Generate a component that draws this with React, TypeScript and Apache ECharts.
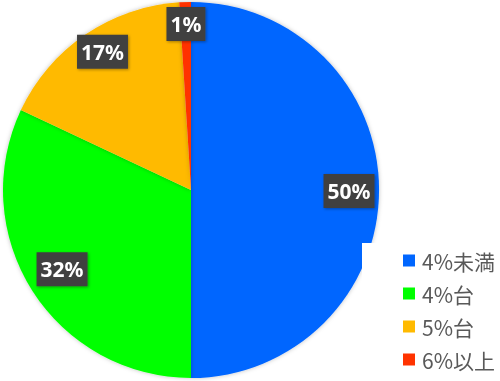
import React, { useEffect, useRef } from "react";
import * as echarts from "echarts";

const categories = ["4%未満", "4%台", "5%台", "6%以上"];
const values = [50, 32, 17, 1];
const colors = ["#0066ff", "#00ff00", "#ffba00", "#ff3300"];

export default function App() {
  const ref = useRef<HTMLDivElement>(null);
  useEffect(() => {
    if (!ref.current) return;
    const chart = echarts.init(ref.current, null, { renderer: "svg" });
    const labelNudge: number[][] = [[-3, 1], [7, -7], [2, -5], [0, -5]];
    const data = categories.map((name, i) => ({
      name,
      value: values[i],
      itemStyle: { color: colors[i] },
    }));
    chart.setOption({
      animation: false,
      legend: {
        orient: "vertical",
        left: 362,
        top: 243,
        z: 10,
        backgroundColor: "#ffffff",
        padding: [6, 8, 10, 41],
        itemWidth: 12,
        itemHeight: 12,
        itemGap: 10,
        icon: "rect",
        data: categories,
        textStyle: {
          fontFamily: "Noto Sans CJK JP",
          fontSize: 21,
          lineHeight: 23,
          color: "#595959",
          padding: [0, 0, 0, 2],
        },
      },
      series: [
        {
          type: "pie",
          center: [191, 190],
          radius: [0, 188],
          startAngle: 90,
          clockwise: true,
          label: { show: false },
          labelLine: { show: false },
          itemStyle: { shadowBlur: 4, shadowColor: "rgba(0,0,0,0.25)" },
          emphasis: { disabled: true },
          data,
        },
        {
          type: "pie",
          silent: true,
          center: [191, 190],
          radius: [128, 188],
          startAngle: 90,
          clockwise: true,
          itemStyle: { color: "rgba(0,0,0,0)" },
          labelLine: { show: false },
          label: {
            show: true,
            position: "inside",
            formatter: "{d}%",
            fontFamily: "Noto Sans",
            fontWeight: "bold",
            fontSize: 21,
            lineHeight: 21,
            color: "#ffffff",
            backgroundColor: "#404040",
            padding: [7, 4, 6, 4],
            shadowBlur: 3,
            shadowColor: "rgba(0,0,0,0.35)",
            shadowOffsetX: 1,
            shadowOffsetY: 1,
          },
          emphasis: { disabled: true },
          data: categories.map((name, i) => ({
            name,
            value: values[i],
            label: { offset: labelNudge[i] },
          })),
        },
      ],
    });
    return () => chart.dispose();
  }, []);
  return (
    <div
      ref={ref}
      style={{ position: "fixed", left: 0, top: 0, width: 500, height: 381 }}
    />
  );
}
